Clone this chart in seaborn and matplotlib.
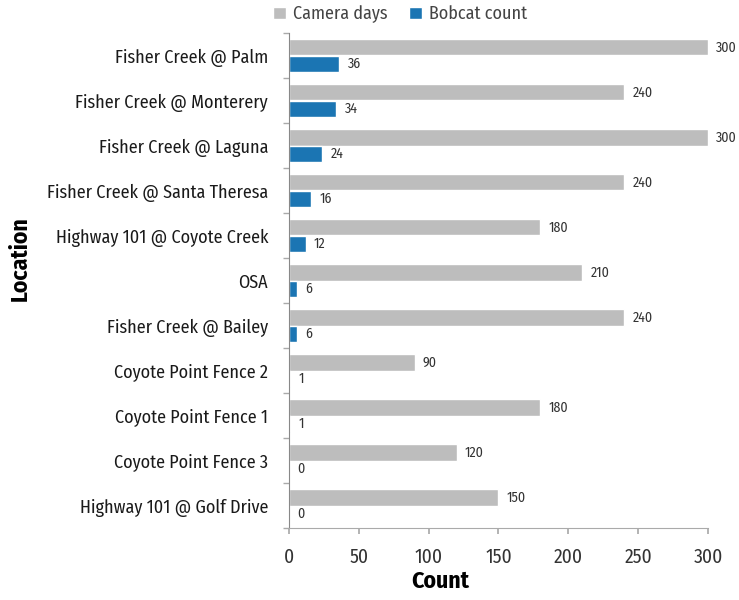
import numpy as np
import pandas as pd
import matplotlib
matplotlib.use("Agg")
import matplotlib.pyplot as plt
import seaborn as sns

locations = ["Fisher Creek @ Palm", "Fisher Creek @ Monterery", "Fisher Creek @ Laguna",
             "Fisher Creek @ Santa Theresa", "Highway 101 @ Coyote Creek", "OSA",
             "Fisher Creek @ Bailey", "Coyote Point Fence 2", "Coyote Point Fence 1",
             "Coyote Point Fence 3", "Highway 101 @ Golf Drive"]
camera_days = [300, 240, 300, 240, 180, 210, 240, 90, 180, 120, 150]
bobcat_count = [36, 34, 24, 16, 12, 6, 6, 1, 1, 0, 0]
series_names = ["Camera days", "Bobcat count"]
x_ticks = [0, 50, 100, 150, 200, 250, 300]

sns.set_theme(style="white")
plt.rcParams["font.family"] = ["Fira Sans Condensed", "DejaVu Sans"]

df = pd.DataFrame({
    "Location": locations * 2,
    "Count": camera_days + bobcat_count,
    "Series": [series_names[0]] * len(locations) + [series_names[1]] * len(locations),
})

fig = plt.figure(figsize=(7.39, 6.0), dpi=100)
ax = fig.add_axes([0.391, 0.12, 0.567, 0.825])
sns.barplot(data=df, y="Location", x="Count", hue="Series", orient="h",
            palette=["#bdbdbd", "#1b75b3"], width=0.72, ax=ax, saturation=1)

for cont in ax.containers:
    ax.bar_label(cont, padding=6, fontsize=10, color="#333333")

ax.set_xlim(0, 300)
ax.set_ylim(10.5, -0.5)
ax.set_xticks(x_ticks)
ax.set_xticklabels([str(t) for t in x_ticks], fontsize=14, color="#333333")
ax.tick_params(axis="x", length=4, color="#aaaaaa", pad=10, bottom=True)
ax.tick_params(axis="y", which="major", length=0, labelsize=13, labelcolor="#1a1a1a", pad=15)
ax.set_yticks(np.arange(-0.5, 11, 1), minor=True)
ax.tick_params(axis="y", which="minor", length=4, color="#aaaaaa", left=True)
ax.set_xlabel("Count", fontsize=17, fontweight="bold", color="black")
ax.set_ylabel("Location", fontsize=17, fontweight="bold", color="black")
ax.xaxis.set_label_coords(0.36, -0.085)
ax.yaxis.set_label_coords(-0.615, 0.545)

for s in ["top", "right"]:
    ax.spines[s].set_visible(False)
ax.spines["left"].set_color("#888888")
ax.spines["bottom"].set_color("#aaaaaa")
ax.spines["left"].set_linewidth(0.8)
ax.spines["bottom"].set_linewidth(0.8)

handles, labels = ax.get_legend_handles_labels()
ax.legend(handles, labels, loc="lower center", bbox_to_anchor=(0.265, 1.005), ncol=2,
          frameon=False, fontsize=13, handlelength=0.7, handleheight=0.7,
          handletextpad=0.4, columnspacing=1.2, labelcolor="#444444", borderaxespad=0)

fig.savefig("out.png", dpi=100)
